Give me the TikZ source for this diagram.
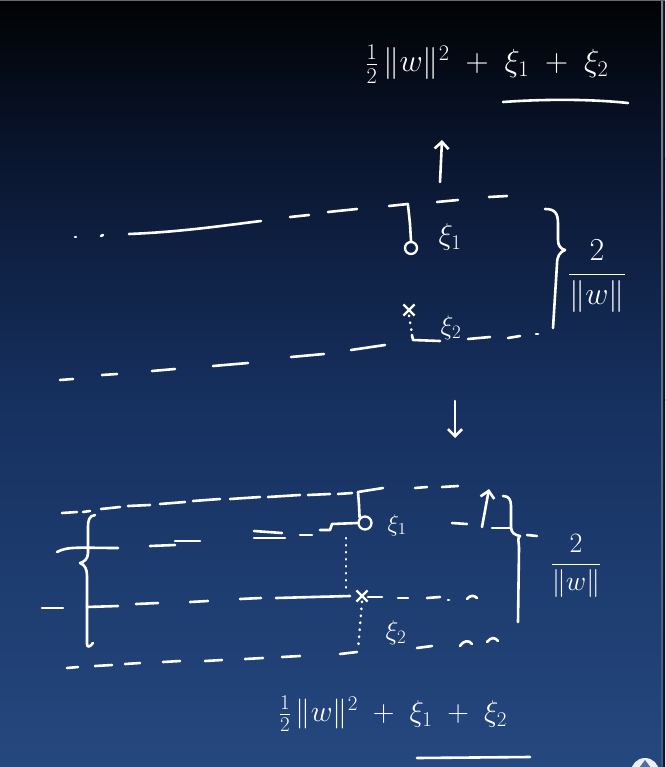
\documentclass[tikz,border=0pt]{standalone}
\usepackage{fix-cm}
\usetikzlibrary{arrows.meta,shapes.misc}
\definecolor{bgtop}{HTML}{010203}
\definecolor{bgdark}{HTML}{0A1630}
\definecolor{bgmid}{HTML}{16305F}
\definecolor{bgbot}{HTML}{25487F}
\definecolor{edgegray}{HTML}{80848C}
\definecolor{edgedark}{HTML}{0B1220}
\begin{document}
\begin{tikzpicture}[x=1pt,y=-1pt]
\tikzset{
  chalk/.style={draw=white, line width=2.6pt, line cap=round, line join=round},
  dotv/.style={chalk, dash pattern=on 0.5pt off 6.5pt},
  ring/.style={circle, draw=white, line width=2.3pt, minimum size=12pt, inner sep=0pt},
  xmark/.style={cross out, draw=white, line width=2.2pt, minimum size=9pt, inner sep=0pt},
  barb/.style={-{Straight Barb[length=7pt,width=14pt]}},
  chalktext/.style={white, inner sep=0pt}
}
% background
\fill[bgbot] (0,0) rectangle (665,767);
\shade[top color=bgtop, bottom color=bgdark] (0,0) rectangle (665,160);
\shade[top color=bgdark, bottom color=bgmid] (0,159) rectangle (665,400);
\shade[top color=bgmid, bottom color=bgbot] (0,399) rectangle (665,767);
\useasboundingbox (0,0) rectangle (665,767);
% screen edges
\fill[edgedark] (663,0) rectangle (665,767);
\shade[top color=edgegray, bottom color=edgegray!30!bgbot] (661.5,0) rectangle (663,767);
\fill[edgegray!80!black] (0,0) rectangle (665,1.2);

% ---------- top formula ----------
\node[chalktext] (topf) at (487,64) {\fontsize{32}{38}\selectfont $\frac{1}{2}\,\Vert w\Vert^{2}\mathbin{\;+\;}\xi_{1}\mathbin{\;+\;}\xi_{2}$};
\draw[chalk] (503,102) .. controls (545,99) and (590,99) .. (628,103);

% up arrow
\coordinate (uaS) at (440,182);
\coordinate (uaE) at (442,140);
\draw[chalk,barb] (uaS) -- (uaE);

% ---------- upper figure ----------
\draw[chalk] (75,237) -- (76,237);
\draw[chalk] (101,236) -- (103,235);
\draw[chalk] (129,234) .. controls (180,232) and (220,226) .. (261,221);
\draw[chalk] (290,217) -- (309,215);
\draw[chalk] (328,212) -- (357,209);
\draw[chalk] (389,206) -- (408,204);
\node[ring] (cA) at (411,248) {};
\coordinate (tA) at (408,205);
\draw[chalk] (tA) -- (410,224) -- (cA.north);
\node[chalktext] (xiA) at (450,237) {\fontsize{30}{34}\selectfont $\xi_1$};
\draw[chalk] (437,202) -- (458,200);
\draw[chalk] (489,197) -- (507,196);

\draw[chalk] (60,380) -- (73,379);
\draw[chalk] (102,375) -- (117,374);
\draw[chalk] (152,371) -- (175,369);
\draw[chalk] (213,366) -- (248,363);
\draw[chalk] (291,357) -- (324,354);
\draw[chalk] (351,350) -- (385,345);
\node[xmark] (xA) at (409,310) {};
\coordinate (cornA) at (413,340);
\draw[dotv] (xA.south) -- (412,334);
\draw[chalk] (412,335) -- (cornA) -- (440,341);
\node[chalktext] (xiB) at (451,328) {\fontsize{27}{30}\selectfont $\xi_2$};
\draw[chalk] (468,339) -- (490,337);
\draw[chalk] (508,338) -- (520,336);
\draw[chalk] (536,334) -- (538,334);

\draw[chalk] (545,209) .. controls (555,209) and (558,213) .. (558,224) -- (558,240)
  .. controls (558,246) and (561,249) .. (565,250)
  .. controls (560,252) and (557,256) .. (557,264) -- (553,328);
\node[chalktext] (fracA) at (597,276) {\fontsize{32}{38}\selectfont $\displaystyle\frac{2}{\Vert w\Vert}$};

% down arrow
\coordinate (daS) at (455,401);
\coordinate (daE) at (455,438);
\draw[chalk,barb] (daS) -- (daE);

% ---------- lower figure ----------
\draw[chalk] (62,513) -- (77,512);
\draw[chalk] (83,512) -- (90,511);
\draw[chalk] (101,509) -- (120,507);
\draw[chalk] (128,506) -- (150,505);
\draw[chalk] (160,504) -- (185,502);
\draw[chalk] (193,501) -- (220,499);
\draw[chalk] (230,499) -- (260,497);
\draw[chalk] (268,497) -- (300,495);
\draw[chalk] (308,495) -- (330,494);
\draw[chalk] (338,494) -- (352,493);
\draw[chalk] (358,492) -- (383,488);
\node[ring, minimum size=13pt] (cB) at (365,523) {};
\draw[chalk] (358,492) -- (359,505) -- (cB.north west);
\draw[chalk] (415,488) -- (427,487);
\draw[chalk] (442,487) -- (458,486);
\node[chalktext] (xiC) at (397,525) {\fontsize{24}{28}\selectfont $\xi_1$};
\coordinate (laS) at (482,527);
\coordinate (laE) at (489,489);
\draw[chalk,barb] (laS) -- (laE);

\draw[chalk] (57,552) .. controls (68,546) and (80,548) .. (118,548);
\draw[chalk] (150,546) -- (175,545);
\draw[chalk] (175,541) -- (200,541);
\draw[chalk] (254,531) -- (282,533);
\draw[chalk] (254,538) -- (285,538);
\draw[chalk] (300,535) -- (312,535);
\draw[chalk] (320,530) -- (330,530) -- (332,524) -- (cB.west);
\draw[chalk] (452,523) -- (467,524);
\draw[chalk] (492,528) -- (510,528);
\draw[chalk] (527,535) -- (537,536);

\draw[chalk] (95,515) .. controls (89,516) and (88,520) .. (88,528) -- (88,553)
  .. controls (88,559) and (84,562) .. (80,563)
  .. controls (85,565) and (87,569) .. (87,576) -- (87,644)
  .. controls (87,648) and (90,647) .. (93,643);

\draw[dotv] (346,538) -- (346,590);

\draw[chalk] (42,608) -- (63,608);
\draw[chalk] (87,607) -- (118,606);
\draw[chalk] (136,604) -- (158,603);
\draw[chalk] (190,602) -- (208,601);
\draw[chalk] (240,599) -- (261,598);
\draw[chalk] (276,598) -- (350,596);
\node[xmark] (xB) at (362,596) {};
\draw[chalk] (368,597) -- (382,597);
\draw[chalk] (398,598) -- (408,598);
\draw[chalk] (427,598) -- (440,597);
\draw[chalk] (448,600) -- (449,600);
\draw[chalk] (467,599) .. controls (470,595) and (474,595) .. (477,598);

\draw[dotv] (xB.south) -- (358,650);

\draw[chalk] (67,668) -- (78,667);
\draw[chalk] (95,666) -- (112,665);
\draw[chalk] (125,664) -- (140,663);
\draw[chalk] (163,662) -- (180,661);
\draw[chalk] (205,661) -- (222,660);
\draw[chalk] (245,659) -- (263,658);
\draw[chalk] (282,657) -- (300,656);
\draw[chalk] (340,654) -- (357,652);
\node[chalktext] (xiD) at (396,633) {\fontsize{27}{30}\selectfont $\xi_2$};
\draw[chalk] (417,648) -- (432,646);
\draw[chalk] (460,646) .. controls (464,640) and (469,640) .. (472,644);
\draw[chalk] (487,642) .. controls (491,637) and (495,637) .. (498,641);

\draw[chalk] (503,496) .. controls (509,496) and (511,500) .. (511,506) -- (511,527)
  .. controls (511,533) and (515,535) .. (520,536)
  .. controls (517,538) and (519,542) .. (519,548) -- (518,622);
\node[chalktext] (fracB) at (576,566) {\fontsize{28}{32}\selectfont $\displaystyle\frac{2}{\Vert w\Vert}$};

% ---------- bottom formula ----------
\node[chalktext] (botf) at (393,714) {\fontsize{30}{34}\selectfont $\frac{1}{2}\,\Vert w\Vert^{2}\mathbin{\;+\;}\xi_{1}\mathbin{\;+\;}\xi_{2}$};
\draw[chalk] (417,758) -- (530,757);

% corner button
\fill[white!92!bgbot] (645,772) circle (14);
\fill[bgbot!80!white] (639,768) -- (645,760) -- (651,768) -- cycle;
\end{tikzpicture}
\end{document}
